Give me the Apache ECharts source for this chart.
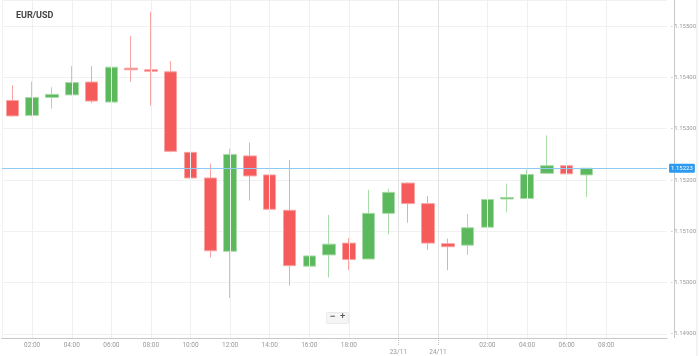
<!DOCTYPE html>
<html><head><meta charset="utf-8">
<script src="https://cdn.jsdelivr.net/npm/echarts@6/dist/echarts.min.js"></script>
<style>html,body{margin:0;padding:0;background:#fff}#c{width:699px;height:356px}</style>
</head><body><div id="c"></div>
<script>
// hourly candles
const opens  = [1.15355,1.15326,1.15361,1.15366,1.15391,1.15352,1.15418,1.15415,1.15411,1.15254,1.15204,1.15061,1.15247,1.15210,1.15141,1.15032,1.15054,1.15077,1.15046,1.15135,1.15194,1.15154,1.15076,1.15073,1.15108,1.15163,1.15164,1.15213,1.15228,1.15210];
const closes = [1.15325,1.15361,1.15367,1.15390,1.15354,1.15420,1.15415,1.15412,1.15256,1.15204,1.15062,1.15250,1.15208,1.15143,1.15033,1.15052,1.15075,1.15045,1.15135,1.15176,1.15154,1.15077,1.15070,1.15107,1.15162,1.15166,1.15211,1.15228,1.15212,1.15223];
const lows   = [1.15323,1.15324,1.15339,1.15365,1.15350,1.15351,1.15392,1.15345,1.15254,1.15128,1.15049,1.14970,1.15160,1.15060,1.14994,1.14915,1.15010,1.15024,1.15046,1.15094,1.15117,1.15064,1.15024,1.15054,1.15108,1.15137,1.15164,1.15213,1.15206,1.15167];
const highs  = [1.15385,1.15392,1.15381,1.15422,1.15422,1.15469,1.15481,1.15528,1.15432,1.15273,1.15232,1.15261,1.15273,1.15236,1.15239,1.15056,1.15132,1.15087,1.15181,1.15183,1.15196,1.15169,1.15086,1.15134,1.15186,1.15193,1.15220,1.15287,1.15273,1.15222];
const timeLabelPos  = [1,3,5,7,9,11,13,15,17,24,26,28,30];
const timeLabelText = ['02:00','04:00','06:00','08:00','10:00','12:00','14:00','16:00','18:00','02:00','04:00','06:00','08:00'];
const dateLabelPos  = [19.5,21.5];
const dateLabelText = ['23/11','24/11'];
const currentPrice = 1.15223;
const yTickValues = [1.149,1.150,1.151,1.152,1.153,1.154,1.155];

const data = opens.map((o,i)=>[i,o,closes[i],lows[i],highs[i]]);
const vLines = timeLabelPos.map(v=>({xAxis:v}));
const dLines = dateLabelPos.map(v=>({xAxis:v}));

const chart = echarts.init(document.getElementById('c'),null,{renderer:'canvas'});
const XMIN=-0.525, XMAX=33.075;
chart.setOption({
  animation:false,
  title:{text:'EUR/USD',left:11,top:6,textStyle:{fontSize:9,fontWeight:'bold',color:'#444',fontFamily:'Roboto'}},
  grid:{left:2,right:25,top:0,bottom:18,show:false},
  xAxis:[{
    type:'value',min:XMIN,max:XMAX,
    axisLine:{show:true,onZero:false,lineStyle:{color:'#c8c8c8'}},
    axisTick:{show:false},
    splitLine:{show:false},
    axisLabel:{customValues:timeLabelPos,margin:4,fontSize:6.5,color:'#999',fontFamily:'Roboto',
      formatter:v=>{const k=timeLabelPos.indexOf(v);return k>=0?timeLabelText[k]:'';}}
  },{
    type:'value',min:XMIN,max:XMAX,position:'bottom',
    axisLine:{show:false,onZero:false},
    axisTick:{show:true,length:8,customValues:dateLabelPos,lineStyle:{color:'#bbb',type:[1,1]}},
    splitLine:{show:false},
    axisLabel:{customValues:dateLabelPos,margin:11,fontSize:6.5,color:'#999',fontFamily:'Roboto',
      formatter:v=>{const k=dateLabelPos.indexOf(v);return k>=0?dateLabelText[k]:'';}}
  }],
  yAxis:{
    type:'value',position:'right',min:1.14892,max:1.15551,
    axisLine:{show:false,onZero:false},
    axisTick:{show:false},
    splitLine:{show:true,lineStyle:{color:'#f1f1f1'}},
    axisLabel:{customValues:yTickValues,margin:4,fontSize:6,color:'#999',fontFamily:'Roboto',
      formatter:v=>'- '+v.toFixed(5)}
  },
  series:[{
    type:'line',data:[],z:1,markLine:{silent:true,symbol:'none',animation:false,precision:3,label:{show:false},
      lineStyle:{color:'#efefef',width:1,type:'solid'},data:vLines}
  },{
    type:'line',data:[],z:1,markLine:{silent:true,symbol:'none',animation:false,precision:3,label:{show:false},
      lineStyle:{color:'#e2e2e2',width:1,type:'solid'},data:dLines}
  },{
    type:'candlestick',xAxisIndex:0,data:data,barWidth:13,z:3,
    itemStyle:{color:'#5cb85c',color0:'#f55b5b',borderColor:'#a9dba9',borderColor0:'#f9a3a3',borderWidth:1}
  },{
    type:'line',data:[],z:4,markLine:{silent:true,symbol:'none',animation:false,precision:5,
      data:[{yAxis:currentPrice,lineStyle:{color:'#8fcaf2',width:1,type:'solid'},
        label:{show:true,position:'end',distance:2,formatter:currentPrice.toFixed(5),color:'#fff',
          backgroundColor:'#2b9af0',padding:[2,2,1,2],borderRadius:1,fontSize:6,fontFamily:'Roboto'}}]
    }
  }],
  graphic:[
    {type:'line',shape:{x1:2.5,y1:0,x2:2.5,y2:338},style:{stroke:'#f2f2f2',lineWidth:1}},
    {type:'line',shape:{x1:674.5,y1:0,x2:674.5,y2:338},style:{stroke:'#c8c8c8',lineWidth:1}},
    {type:'rect',left:326,top:312,shape:{width:22,height:11,r:1},style:{fill:'#f5f5f5',stroke:'#eaeaea'}},
    {type:'text',left:330,top:312,style:{text:'−',fontSize:9,fill:'#555',fontWeight:'bold'}},
    {type:'text',left:340,top:312,style:{text:'+',fontSize:9,fill:'#555',fontWeight:'bold'}},
    {type:'line',shape:{x1:697,y1:0,x2:697,y2:356},style:{stroke:'#e6e6e6',lineWidth:1}}
  ]
});
</script></body></html>
